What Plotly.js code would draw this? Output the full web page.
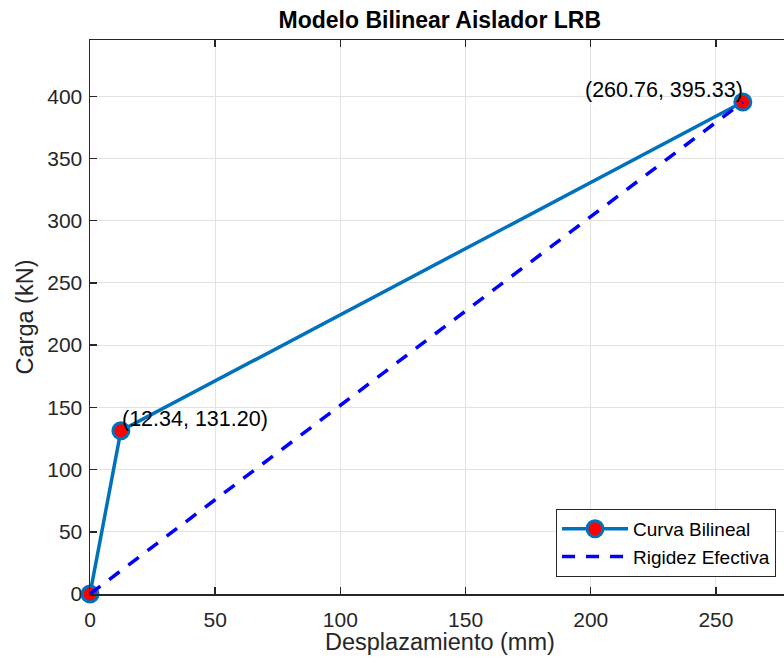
<!DOCTYPE html>
<html>
<head>
<meta charset="utf-8">
<script src="https://cdn.plot.ly/plotly-3.0.1.min.js"></script>
<style>html,body{margin:0;padding:0;overflow:hidden;background:#fff}</style>
</head>
<body>
<div id="chart" style="width:784px;height:661px"></div>
<script>
// Data
const bilinealX = [0, 12.34, 260.76];
const bilinealY = [0, 131.20, 395.33];
const efectivaX = [0, 260.76];
const efectivaY = [0, 395.33];
const seriesNames = ["Curva Bilineal", "Rigidez Efectiva"];
const pointLabels = ["(12.34, 131.20)", "(260.76, 395.33)"];
const xTicks = [0, 50, 100, 150, 200, 250];
const yTicks = [0, 50, 100, 150, 200, 250, 300, 350, 400];
const xLabel = 'Desplazamiento (mm)';
const yLabel = 'Carga (kN)';

const FONT = '"Liberation Sans", Arial, Helvetica, sans-serif';
const AX = '#262626';

const traces = [
  {
    x: bilinealX, y: bilinealY, name: seriesNames[0],
    mode: 'lines+markers', type: 'scatter', cliponaxis: false,
    line: {color: '#0072BD', width: 3.5},
    marker: {size: 16, color: '#FF0000', line: {color: '#0072BD', width: 3}}
  },
  {
    x: efectivaX, y: efectivaY, name: seriesNames[1],
    mode: 'lines', type: 'scatter', cliponaxis: false,
    line: {color: '#0000FF', width: 3.5, dash: '13px,11px'}
  }
];

const axisCommon = {
  showline: true, linecolor: AX, linewidth: 1.5,
  ticks: 'inside', ticklen: 7, tickwidth: 1.5, tickcolor: AX,
  showgrid: true, gridcolor: '#e3e3e3', gridwidth: 1,
  zeroline: false, tickfont: {family: FONT, size: 21, color: AX},
  automargin: false
};

const layout = {
  width: 784, height: 661,
  margin: {l: 90, r: 0, t: 40, b: 67},
  paper_bgcolor: '#ffffff', plot_bgcolor: '#ffffff',
  showlegend: true,
  title: {
    text: '<b>Modelo Bilinear Aislador LRB</b>',
    font: {family: FONT, size: 23, color: '#000000'},
    x: 0.504, xref: 'paper', xanchor: 'center',
    y: 1 - 20/661, yref: 'container', yanchor: 'middle'
  },
  xaxis: Object.assign({}, axisCommon, {
    range: [0, 277.2], tickvals: xTicks, ticktext: xTicks.map(String),
    mirror: 'ticks', ticklabelstandoff: 6
  }),
  yaxis: Object.assign({}, axisCommon, {
    range: [0, 445.2], tickvals: yTicks, ticktext: yTicks.map(String),
    mirror: false, ticklabelstandoff: 2,
    title: {text: yLabel, font: {family: FONT, size: 23.5, color: AX}, standoff: 7}
  }),
  legend: {
    x: 0.9885, xanchor: 'right', y: 0.0307, yanchor: 'bottom',
    bgcolor: '#ffffff', bordercolor: AX, borderwidth: 1,
    font: {family: FONT, size: 19, color: '#000000'},
    itemwidth: 66, tracegroupgap: 0
  },
  annotations: [
    {x: bilinealX[1], y: bilinealY[1], xref: 'x', yref: 'y', text: pointLabels[0],
     showarrow: false, xanchor: 'left', yanchor: 'middle', xshift: -1, yshift: 12,
     font: {family: FONT, size: 21.5, color: '#000000'}},
    {x: bilinealX[2], y: bilinealY[2], xref: 'x', yref: 'y', text: pointLabels[1],
     showarrow: false, xanchor: 'right', yanchor: 'middle', xshift: 2, yshift: 12,
     font: {family: FONT, size: 21.5, color: '#000000'}},
    {x: 0.504, y: -48/554, xref: 'paper', yref: 'paper', text: xLabel,
     showarrow: false, xanchor: 'center', yanchor: 'middle',
     font: {family: FONT, size: 23.5, color: AX}}
  ]
};

Plotly.newPlot('chart', traces, layout, {displayModeBar: false, staticPlot: true});
</script>
</body>
</html>
